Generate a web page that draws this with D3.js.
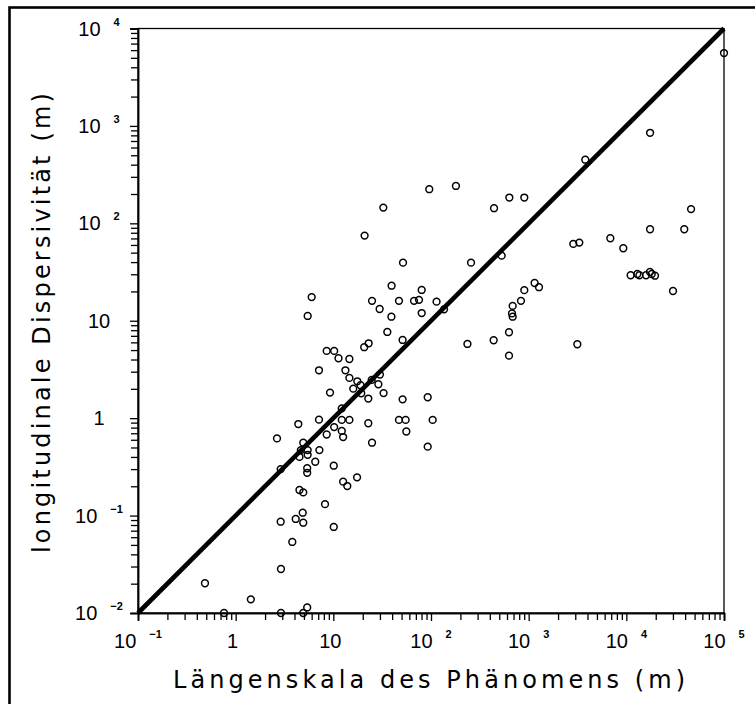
<!DOCTYPE html>
<html>
<head>
<meta charset="utf-8">
<script src="https://cdn.jsdelivr.net/npm/d3@7"></script>
<style>
  html, body { margin: 0; padding: 0; background: #fff; }
  svg { display: block; }
  text { font-family: "Liberation Sans", Arial, Helvetica, sans-serif; fill: #000; }
  text.title { font-family: "DejaVu Sans", "Liberation Sans", sans-serif; }
</style>
</head>
<body>
<svg id="chart" width="755" height="704"></svg>
<script>
// ---- data ----
const laengenskala = [
  1e5, 17500, 3800, 96, 180, 442, 634, 902, 32.5, 46000,
  17500, 39200, 2864, 3300, 6855, 9310, 11070, 12950, 13600, 15900,
  17460, 18200, 19650, 30060, 3150, 20.9, 529, 257, 51.7, 39.5,
  80.3, 24.9, 47, 67, 75.4, 114, 136, 29.8, 39.3, 80.3,
  1151, 1276, 902, 834, 686, 675, 686, 629, 629, 438,
  236, 51.2, 35.7, 6.0, 5.46, 20.7, 23, 8.55, 10.2, 11.3,
  14.6, 7.13, 13.3, 14.6, 17.6, 30, 24.7, 28.9, 16, 19,
  9.25, 32.7, 22.8, 51.2, 92.5, 19.3, 12.2, 7.13, 12.2, 14.6,
  10.2, 12.2, 12.6, 8.55, 22.8, 24.9, 47, 55, 55.9, 104,
  92.5, 7.2, 4.92, 4.65, 5.46, 4.5, 5.46, 6.53, 5.4, 5.4,
  10.1, 12.6, 13.9, 17.5, 4.92, 4.5, 8.22, 4.86, 4.92, 10.1,
  5.4, 4.92, 4.38, 2.65, 2.89, 2.89, 4.12, 3.8, 2.91, 0.485,
  1.43, 0.76, 2.91
];
const dispersivitaet = [
  5600, 850, 450, 224, 242, 143, 184, 184, 145, 140,
  87, 87, 61.5, 63.4, 70.3, 55.5, 29.3, 30.2, 29.3, 29.3,
  31.7, 30.2, 29, 20.2, 5.74, 74.8, 46.6, 39.5, 39.5, 22.9,
  20.7, 16.0, 16, 16, 16.4, 15.7, 13.1, 13.2, 11.0, 12.0,
  24.4, 22.1, 20.6, 16, 14.2, 11.9, 11.0, 7.62, 4.38, 6.31,
  5.78, 6.35, 7.67, 17.5, 11.2, 5.35, 5.87, 4.9, 4.9, 4.12,
  4.05, 3.1, 3.1, 2.59, 2.39, 2.8, 2.47, 2.23, 2.01, 2.18,
  1.83, 1.81, 1.59, 1.56, 1.64, 1.8, 1.26, 0.966, 0.96, 0.96,
  0.81, 0.74, 0.64, 0.68, 0.887, 0.56, 0.96, 0.96, 0.73, 0.96,
  0.51, 0.47, 0.56, 0.47, 0.47, 0.40, 0.42, 0.357, 0.306, 0.275,
  0.325, 0.223, 0.201, 0.247, 0.173, 0.183, 0.131, 0.107, 0.0845, 0.0764,
  0.0114, 0.0100, 0.87, 0.62, 0.30, 0.0865, 0.0923, 0.0536, 0.0283, 0.0202,
  0.0138, 0.0100, 0.0100
];
// reference line  alpha_L = L / 10
const lineX = [0.1, 1e5];
const lineY = [0.01, 1e4];

const xMajor = [0.1, 1, 10, 100, 1000, 1e4, 1e5];
const xTickBase = ["10", "1", "10", "10", "10", "10", "10"];
const xTickExp  = ["\u22121", "", "", "2", "3", "4", "5"];
const yMajor = [0.01, 0.1, 1, 10, 100, 1000, 1e4];
const yTickBase = ["10", "10", "1", "10", "10", "10", "10"];
const yTickExp  = ["\u22122", "\u22121", "", "", "2", "3", "4"];

const xTitle = "Längenskala des Phänomens (m)";
const yTitle = "longitudinale Dispersivität (m)";

// ---- layout ----
const L = 138, R = 724, T = 28.5, B = 613;
const svg = d3.select("#chart");

const x = d3.scaleLog().domain([0.1, 1e5]).range([L, R]);
const y = d3.scaleLog().domain([0.01, 1e4]).range([B, T]);

// outer frame (extends beyond the picture at right and bottom)
svg.append("rect").attr("x", 9.5).attr("y", 7.5).attr("width", 900).attr("height", 900)
  .attr("fill", "none").attr("stroke", "#000").attr("stroke-width", 2.6);

function minors(lo, hi) {
  const out = [];
  for (let e = Math.log10(lo); e < Math.log10(hi); e++) {
    for (let k = 2; k <= 9; k++) out.push(k * Math.pow(10, e));
  }
  return out;
}

// plot box
svg.append("rect").attr("x", L).attr("y", T).attr("width", R - L).attr("height", B - T)
  .attr("fill", "none").attr("stroke", "#000").attr("stroke-width", 1.3);

// axes: minor + major ticks
const gx = svg.append("g").attr("transform", `translate(0,${B})`);
gx.append("g").call(d3.axisBottom(x).tickValues(minors(0.1, 1e5)).tickSize(7).tickFormat(""));
gx.append("g").call(d3.axisBottom(x).tickValues(xMajor).tickSize(8).tickFormat(""));
const gy = svg.append("g").attr("transform", `translate(${L},0)`);
gy.append("g").call(d3.axisLeft(y).tickValues(minors(0.01, 1e4)).tickSize(7).tickFormat(""));
gy.append("g").call(d3.axisLeft(y).tickValues(yMajor).tickSize(8).tickFormat(""));
svg.selectAll(".domain").attr("stroke-width", 1.5);
svg.selectAll(".tick line").attr("stroke-width", 1.3);

// tick labels
function label(g, px, py, base, exp) {
  const t = g.append("text").attr("x", px).attr("y", py)
    .attr("text-anchor", "middle").attr("font-size", 20);
  t.append("tspan").text(base);
  if (exp) {
    t.append("tspan").attr("dx", 13).attr("dy", -10)
      .attr("font-size", 11).attr("font-weight", "bold").text(exp);
  }
}
const lab = svg.append("g");
xMajor.forEach((v, i) => label(lab, x(v) + (xTickExp[i] ? 0 : -3), 648, xTickBase[i], xTickExp[i]));
yMajor.forEach((v, i) => label(lab, 99, y(v) + 7, yTickBase[i], yTickExp[i]));

// axis titles
svg.append("text").attr("class", "title").attr("x", 173).attr("y", 688).attr("font-size", 24)
  .attr("textLength", 512).attr("lengthAdjust", "spacing").text(xTitle);
svg.append("text").attr("class", "title").attr("transform", "translate(50,553) rotate(-90)").attr("font-size", 24)
  .attr("textLength", 460).attr("lengthAdjust", "spacing").text(yTitle);

// 1:10 line
const pts = lineX.map((v, i) => [v, lineY[i]]);
svg.append("path").datum(pts)
  .attr("d", d3.line().x(d => x(d[0])).y(d => y(d[1])))
  .attr("fill", "none").attr("stroke", "#000").attr("stroke-width", 4.6);

// data points
const data = laengenskala.map((v, i) => ({ l: v, a: dispersivitaet[i] }));
svg.append("g").selectAll("circle").data(data).join("circle")
  .attr("cx", d => x(d.l)).attr("cy", d => y(d.a)).attr("r", 3.4)
  .attr("fill", "none").attr("stroke", "#000").attr("stroke-width", 1.5);
</script>
</body>
</html>
